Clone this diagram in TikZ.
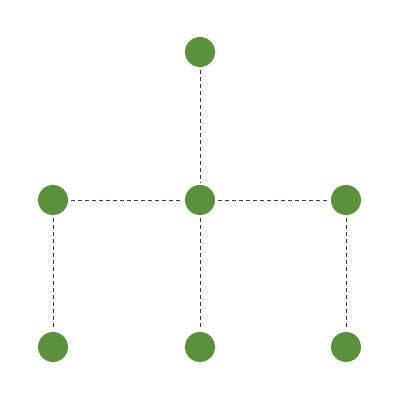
\documentclass[tikz,border=0pt]{standalone}
\usepackage{tikz}
\usetikzlibrary{positioning}

\definecolor{leafgreen}{HTML}{5B913B}
\definecolor{edgegray}{HTML}{3A3A48}

\begin{document}
\begin{tikzpicture}[
  dot/.style={circle,fill=leafgreen,draw=none,minimum size=7.5mm,inner sep=0pt,outer sep=2pt},
  link/.style={draw=edgegray,line width=0.5pt,dash pattern=on 1mm off 0.75mm}]
\useasboundingbox (0,0) rectangle (10,10);
% ---- nodes ----
\node[dot] (top) at (5,8.7) {};
\node[dot] (ml)  at (1.325,5) {};
\node[dot] (mc)  at (5,5) {};
\node[dot] (mr)  at (8.65,5) {};
\node[dot] (bl)  at (1.325,1.325) {};
\node[dot] (bc)  at (5,1.325) {};
\node[dot] (br)  at (8.65,1.325) {};
% ---- links ----
\draw[link] (top) -- (mc);
\draw[link] (ml) -- (mc);
\draw[link] (mc) -- (mr);
\draw[link] (ml) -- (bl);
\draw[link] (mc) -- (bc);
\draw[link] (mr) -- (br);
\end{tikzpicture}
\end{document}
